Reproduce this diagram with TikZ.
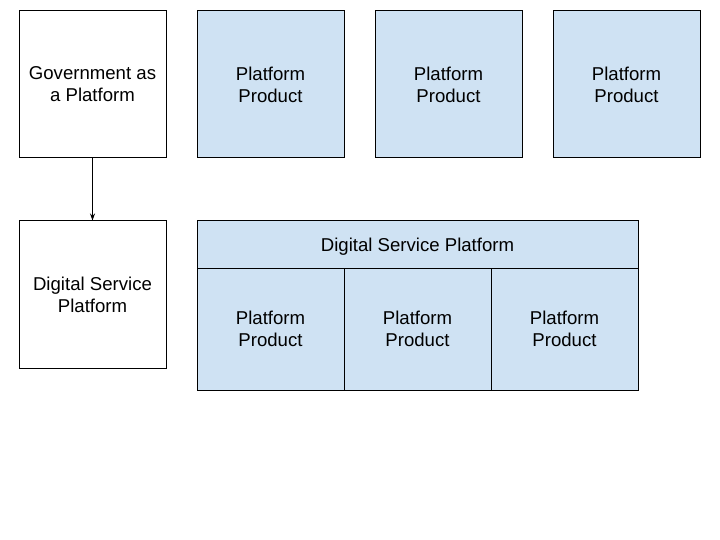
\documentclass[tikz,border=0pt]{standalone}
\usepackage{fontspec}
\setmainfont{Liberation Sans}
\usetikzlibrary{arrows.meta}
\definecolor{product}{HTML}{cfe2f3}

\begin{document}
\begin{tikzpicture}[
  x=1pt, y=1pt,
  line join=miter,
  every node/.style={font=\fontsize{18.6}{22}\selectfont, inner sep=0pt, align=center, text depth=-4pt},
  box/.style={draw=black, line width=1pt, minimum width=147pt, minimum height=147pt},
  product/.style={box, fill=product},
  cell/.style={draw=black, line width=1pt, fill=product, minimum width=147pt, minimum height=122pt},
  header/.style={draw=black, line width=1pt, fill=product, minimum width=441pt, minimum height=47pt},
  link/.style={line width=0.9pt, -{Stealth[length=7pt, width=5pt]}},
]
\useasboundingbox (0,0) rectangle (720,-540);
% top row
\node[box] (gov) at (92.5,-84.5) {Government as\\a Platform};
\node[product] (prodA) at (270.5,-84.5) {Platform\\Product};
\node[product] (prodB) at (448.5,-84.5) {Platform\\Product};
\node[product] (prodC) at (626.5,-84.5) {Platform\\Product};
% bottom row
\node[box] (dsp) at (92.5,-294.5) {Digital Service\\Platform};
\node[header] (dsphead) at (417.5,-244.5) {Digital Service Platform};
\node[cell] (cellA) at (270.5,-329) {Platform\\Product};
\node[cell] (cellB) at (417.5,-329) {Platform\\Product};
\node[cell] (cellC) at (564.5,-329) {Platform\\Product};
% connector
\draw[link] (gov.south) -- (dsp.north);
\end{tikzpicture}
\end{document}
